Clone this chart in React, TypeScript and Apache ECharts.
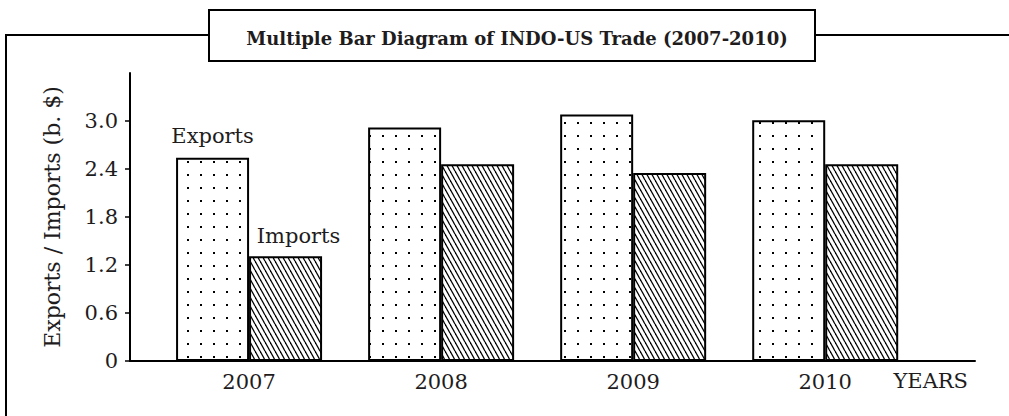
import React, { useEffect, useRef } from "react";
import * as echarts from "echarts";

const years = ["2007", "2008", "2009", "2010"];
const exportsVals = [2.54, 2.92, 3.08, 3.01];
const importsVals = [1.31, 2.46, 2.35, 2.46];
const yTickValues = [0, 0.6, 1.2, 1.8, 2.4, 3.0];
const yTickLabels = ["0", "0.6", "1.2", "1.8", "2.4", "3.0"];
const titleText = "Multiple Bar Diagram of INDO-US Trade (2007-2010)";
const yName = "Exports / Imports (b. $)";
const xName = "YEARS";
const seriesNames = ["Exports", "Imports"];

const FONT = "DejaVu Serif";
const INK = "#1e1c1d";

function dotPattern() {
  const c = document.createElement("canvas");
  c.width = 13;
  c.height = 13;
  const g = c.getContext("2d")!;
  g.fillStyle = "#fff";
  g.fillRect(0, 0, 13, 13);
  g.fillStyle = "#000";
  g.fillRect(5, 5, 2, 2);
  return { image: c.toDataURL(), imageWidth: 13, imageHeight: 13, repeat: "repeat" };
}

function hatchPattern() {
  const w = 5, h = 9;
  const c = document.createElement("canvas");
  c.width = w;
  c.height = h;
  const g = c.getContext("2d")!;
  g.fillStyle = "#fff";
  g.fillRect(0, 0, w, h);
  g.strokeStyle = "#000";
  g.lineWidth = 1.3;
  for (let k = -1; k <= 1; k++) {
    g.beginPath();
    g.moveTo(k * w, 0);
    g.lineTo(k * w + w, h);
    g.stroke();
  }
  return { image: c.toDataURL(), imageWidth: w, imageHeight: h, repeat: "repeat" };
}

export default function App() {
  const ref = useRef<HTMLDivElement>(null);
  useEffect(() => {
    if (!ref.current) return;
    const chart = echarts.init(ref.current, null, { renderer: "svg" });
    const dots = dotPattern();
    const hatch = hatchPattern();
    const labelStyle = { fontFamily: FONT, fontSize: 21, color: INK };
    chart.setOption({
      animation: false,
      backgroundColor: "#fff",
      title: {
        text: titleText,
        left: 512,
        top: 24,
        textAlign: "center",
        textStyle: { fontFamily: FONT, fontSize: 18, fontWeight: "bold", color: INK },
      },
      graphic: [
        { type: "line", z: -1, shape: { x1: 6, y1: 35, x2: 209, y2: 35 }, style: { stroke: "#000", lineWidth: 2 } },
        { type: "line", z: -1, shape: { x1: 815, y1: 35, x2: 1009, y2: 35 }, style: { stroke: "#000", lineWidth: 2 } },
        { type: "line", z: -1, shape: { x1: 6, y1: 34, x2: 6, y2: 416 }, style: { stroke: "#000", lineWidth: 2 } },
        { type: "rect", z: -1, shape: { x: 209, y: 10, width: 606, height: 51 }, style: { fill: "#fff", stroke: "#000", lineWidth: 2 } },
      ],
      grid: { left: 130, right: 34, top: 73, bottom: 55 },
      xAxis: {
        type: "value",
        min: -0.62,
        max: 3.78,
        splitLine: { show: false },
        axisTick: { show: false },
        axisLine: { show: true, onZero: false, lineStyle: { color: "#000", width: 2 } },
        axisLabel: {
          customValues: years.map((_, i) => i),
          formatter: (v: number) => years[Math.round(v)] ?? "",
          margin: 10,
          ...labelStyle,
        },
        name: xName,
        nameLocation: "end",
        nameGap: -7,
        nameTextStyle: { ...labelStyle, align: "right", verticalAlign: "top", padding: [9, 0, 0, 0] },
      },
      yAxis: {
        type: "value",
        min: 0,
        max: 3.6,
        interval: 0.6,
        splitLine: { show: false },
        axisLine: { show: true, onZero: false, lineStyle: { color: "#000", width: 2 } },
        axisTick: { show: true, length: 5, customValues: yTickValues, lineStyle: { color: "#000", width: 1.5 } },
        axisLabel: {
          customValues: yTickValues,
          formatter: (v: number) => {
            const i = yTickValues.findIndex((t) => Math.abs(t - v) < 1e-6);
            return i >= 0 ? yTickLabels[i] : "";
          },
          margin: 12,
          ...labelStyle,
        },
        name: yName,
        nameLocation: "middle",
        nameRotate: 90,
        nameGap: 67,
        nameTextStyle: { fontFamily: FONT, fontSize: 22, color: INK },
      },
      series: [
        {
          name: seriesNames[0],
          type: "bar",
          barWidth: 73,
          barGap: "0%",
          itemStyle: { color: dots, borderColor: "#000", borderWidth: 2 },
          data: exportsVals.map((v, i) =>
            i === 0
              ? { value: [i, v], label: { show: true, position: "top", distance: 11, formatter: seriesNames[0], ...labelStyle } }
              : { value: [i, v] }
          ),
        },
        {
          name: seriesNames[1],
          type: "bar",
          barWidth: 73,
          barGap: "0%",
          itemStyle: { color: hatch, borderColor: "#000", borderWidth: 2 },
          data: importsVals.map((v, i) =>
            i === 0
              ? { value: [i, v], label: { show: true, position: "top", distance: 10, offset: [13, 0], formatter: seriesNames[1], ...labelStyle } }
              : { value: [i, v] }
          ),
        },
      ],
    });
    return () => chart.dispose();
  }, []);
  return <div ref={ref} style={{ position: "fixed", left: 0, top: 0, width: 1009, height: 416 }} />;
}
